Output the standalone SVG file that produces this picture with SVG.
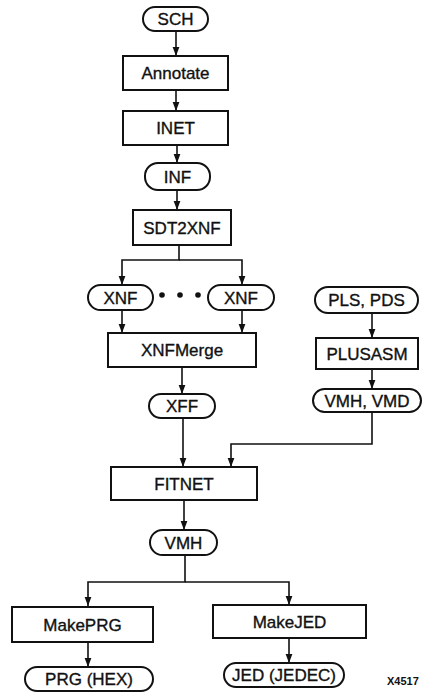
<svg xmlns="http://www.w3.org/2000/svg" width="423" height="692" viewBox="0 0 423 692">
<style>
.box{fill:#fff;stroke:#111;stroke-width:2}
.t{font-family:"Liberation Sans",Arial,sans-serif;font-size:17px;fill:#111;stroke:#111;stroke-width:0.35;text-anchor:middle}
.c{fill:none;stroke:#111;stroke-width:1.6}
</style>
<defs>
<marker id="a" markerWidth="9" markerHeight="12" refX="12" refY="4.5" orient="auto" markerUnits="userSpaceOnUse" viewBox="0 0 12 9">
<path d="M0,0 L12,4.5 L0,9 Z" fill="#111"/>
</marker>
</defs>
<rect width="423" height="692" fill="#fff"/>
<g id="connectors">
<path class="c" d="M176,31 V56" marker-end="url(#a)"/>
<path class="c" d="M176,90 V111" marker-end="url(#a)"/>
<path class="c" d="M177,145 V163" marker-end="url(#a)"/>
<path class="c" d="M177,190 V210" marker-end="url(#a)"/>
<path class="c" d="M179,245 V260 H122 V285" marker-end="url(#a)"/>
<path class="c" d="M179,260 H242 V285" marker-end="url(#a)"/>
<path class="c" d="M122,310 V333" marker-end="url(#a)"/>
<path class="c" d="M242,310 V333" marker-end="url(#a)"/>
<path class="c" d="M182,367 V394" marker-end="url(#a)"/>
<path class="c" d="M183,418 V467" marker-end="url(#a)"/>
<path class="c" d="M372,313 V338" marker-end="url(#a)"/>
<path class="c" d="M372,369 V389" marker-end="url(#a)"/>
<path class="c" d="M372,412 V444 H231 V467" marker-end="url(#a)"/>
<path class="c" d="M184,500 V530" marker-end="url(#a)"/>
<path class="c" d="M185,555 V582 H88 V606" marker-end="url(#a)"/>
<path class="c" d="M185,582 H289 V605" marker-end="url(#a)"/>
<path class="c" d="M88,642 V667" marker-end="url(#a)"/>
<path class="c" d="M289,638 V663" marker-end="url(#a)"/>
</g>
<g id="sch"><rect class="box" x="143" y="7" width="65" height="24" rx="12"/><text class="t" x="175.5" y="25">SCH</text></g>
<g id="annotate"><rect class="box" x="123" y="56" width="105" height="34"/><text class="t" x="175.5" y="79">Annotate</text></g>
<g id="inet"><rect class="box" x="123" y="111" width="105" height="34"/><text class="t" x="175.5" y="134">INET</text></g>
<g id="inf"><rect class="box" x="145" y="163" width="65" height="27" rx="13"/><text class="t" x="177.5" y="182.5">INF</text></g>
<g id="sdt2xnf"><rect class="box" x="133" y="210" width="98" height="35"/><text class="t" x="182" y="233.5">SDT2XNF</text></g>
<g id="xnf1"><rect class="box" x="88" y="285" width="65" height="25" rx="12.5"/><text class="t" x="120.5" y="303.5">XNF</text></g>
<g id="dots" fill="#111"><circle cx="162" cy="295" r="2.8"/><circle cx="180" cy="295" r="2.8"/><circle cx="198" cy="295" r="2.8"/></g>
<g id="xnf2"><rect class="box" x="208" y="285" width="66" height="25" rx="12.5"/><text class="t" x="241" y="303.5">XNF</text></g>
<g id="xnfmerge"><rect class="box" x="108" y="333" width="148" height="34"/><text class="t" x="182" y="356">XNFMerge</text></g>
<g id="xff"><rect class="box" x="149" y="394" width="66" height="24" rx="12"/><text class="t" x="182" y="412">XFF</text></g>
<g id="plspds"><rect class="box" x="315" y="287" width="103" height="26" rx="13"/><text class="t" x="366.5" y="306">PLS, PDS</text></g>
<g id="plusasm"><rect class="box" x="316" y="338" width="102" height="31"/><text class="t" x="367" y="359.5">PLUSASM</text></g>
<g id="vmhvmd"><rect class="box" x="313" y="389" width="108" height="23" rx="11.5"/><text class="t" x="367" y="406.5">VMH, VMD</text></g>
<g id="fitnet"><rect class="box" x="111" y="467" width="146" height="33"/><text class="t" x="184" y="489.5">FITNET</text></g>
<g id="vmh"><rect class="box" x="150" y="530" width="67" height="25" rx="12.5"/><text class="t" x="183.5" y="548.5">VMH</text></g>
<g id="makeprg"><rect class="box" x="12" y="607" width="141" height="35"/><text class="t" x="82.5" y="630.5">MakePRG</text></g>
<g id="makejed"><rect class="box" x="213" y="605" width="153" height="33"/><text class="t" x="289.5" y="627.5">MakeJED</text></g>
<g id="prghex"><rect class="box" x="25" y="667" width="128" height="24" rx="12"/><text class="t" x="89" y="685">PRG (HEX)</text></g>
<g id="jedjedec"><rect class="box" x="224" y="663" width="120" height="24" rx="12"/><text class="t" x="284" y="681">JED (JEDEC)</text></g>
<text x="387" y="685" font-family="Liberation Sans,Arial,sans-serif" font-size="11" font-weight="bold" fill="#111">X4517</text>
</svg>
